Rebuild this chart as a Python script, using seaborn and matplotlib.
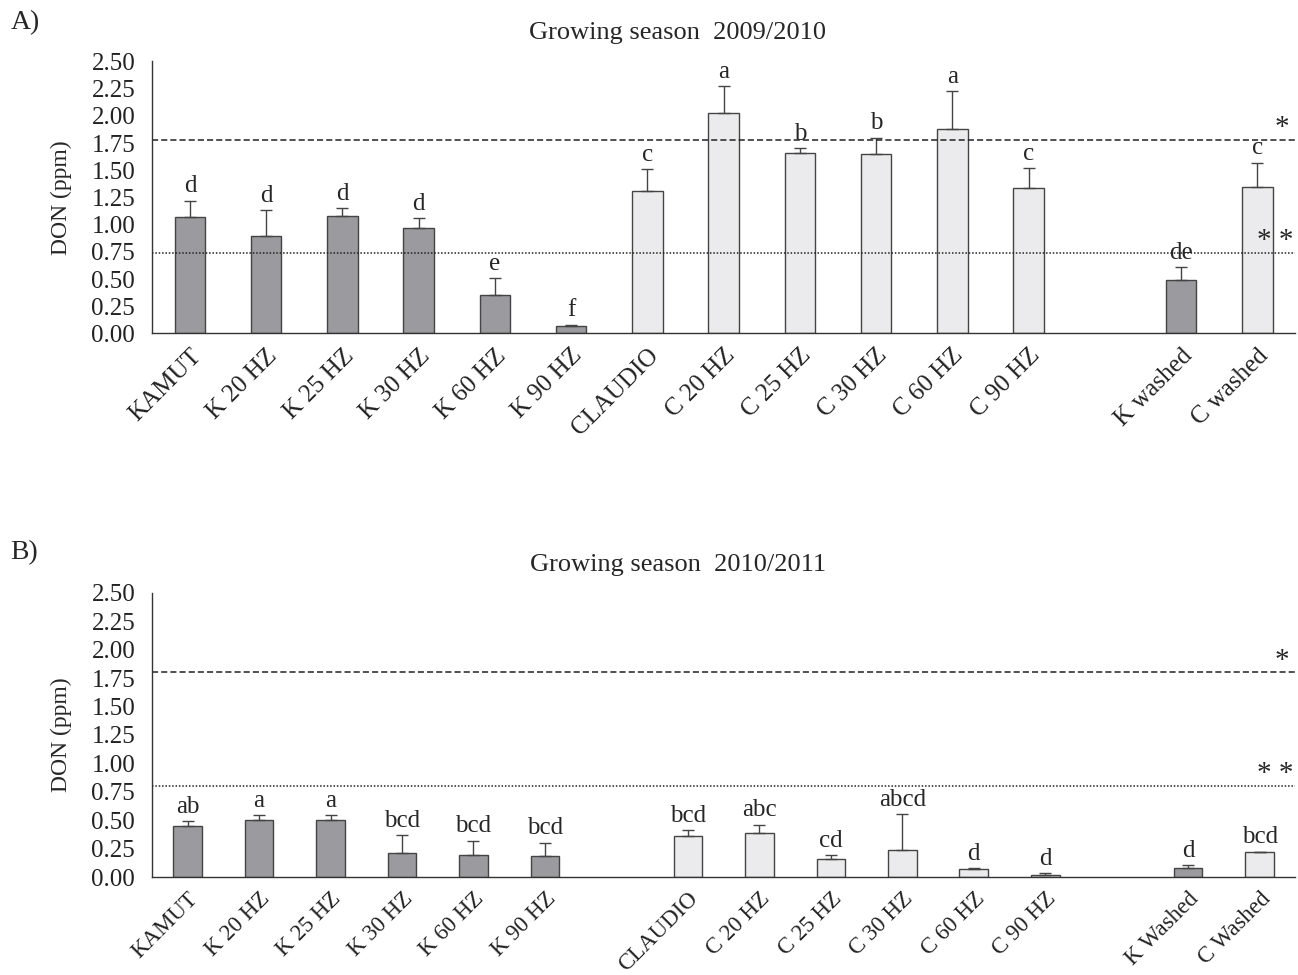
import numpy as np
import pandas as pd
import matplotlib
matplotlib.use("Agg")
import matplotlib.pyplot as plt
import seaborn as sns

# --- data ---
labels_a = ['KAMUT', 'K 20 HZ', 'K 25 HZ', 'K 30 HZ', 'K 60 HZ', 'K 90 HZ', 'CLAUDIO',
            'C 20 HZ', 'C 25 HZ', 'C 30 HZ', 'C 60 HZ', 'C 90 HZ', 'K washed', 'C washed']
order_a = labels_a[:12] + [' '] + labels_a[12:]
don_a = [1.07, 0.90, 1.08, 0.97, 0.35, 0.07, 1.31, 2.03, 1.66, 1.65, 1.875, 1.34, 0.49, 1.35]
err_a = [0.15, 0.23, 0.07, 0.09, 0.16, 0.01, 0.20, 0.24, 0.04, 0.15, 0.355, 0.18, 0.12, 0.22]
let_a = ['d', 'd', 'd', 'd', 'e', 'f', 'c', 'a', 'b', 'b', 'a', 'c', 'de', 'c']
limits_a = [1.78, 0.74]

labels_b = ['KAMUT', 'K 20 HZ', 'K 25 HZ', 'K 30 HZ', 'K 60 HZ', 'K 90 HZ', 'CLAUDIO',
            'C 20 HZ', 'C 25 HZ', 'C 30 HZ', 'C 60 HZ', 'C 90 HZ', 'K Washed', 'C Washed']
order_b = labels_b[:6] + [' '] + labels_b[6:12] + ['  '] + labels_b[12:]
don_b = [0.45, 0.50, 0.50, 0.21, 0.19, 0.185, 0.36, 0.39, 0.16, 0.24, 0.07, 0.02, 0.08, 0.22]
err_b = [0.04, 0.045, 0.045, 0.16, 0.13, 0.115, 0.05, 0.07, 0.03, 0.315, 0.01, 0.015, 0.025, 0.004]
let_b = ['ab', 'a', 'a', 'bcd', 'bcd', 'bcd', 'bcd', 'abc', 'cd', 'abcd', 'd', 'd', 'd', 'bcd']
limits_b = [1.80, 0.80]

cultivar = ['Kamut'] * 6 + ['Claudio'] * 6 + ['Kamut', 'Claudio']
palette = {'Kamut': '#9b9b9f', 'Claudio': '#ebebed'}

sns.set_style('white')
plt.rcParams['font.family'] = ['Liberation Serif', 'DejaVu Serif']
plt.rcParams['font.size'] = 14

fig = plt.figure(figsize=(12.98, 9.75), dpi=100)
ax_a = fig.add_axes([0.117, 0.658, 0.881, 0.279])
ax_b = fig.add_axes([0.117, 0.1005, 0.881, 0.2915])


def draw_panel(ax, labels, order, don, err, letters, limits, title, xfs):
    df = pd.DataFrame({'treatment': labels, 'DON': don, 'cultivar': cultivar})
    sns.barplot(data=df, x='treatment', y='DON', hue='cultivar', order=order,
                palette=palette, dodge=False, width=0.4, edgecolor='#444444',
                linewidth=1.0, legend=False, ax=ax)
    pos = np.array([order.index(l) for l in labels])
    ax.errorbar(pos, don, yerr=[np.zeros(len(err)), err], fmt='none',
                ecolor='#444444', elinewidth=1.0, capsize=4, capthick=1.0)
    for p, v, e, t in zip(pos, don, err, letters):
        ax.text(p, v + e + 0.03, t, ha='center', va='bottom', fontsize=18)

    ax.axhline(limits[0], color='#222222', lw=1.1, ls=(0, (4, 2)))
    ax.axhline(limits[1], color='#222222', lw=1.1, ls=(0, (1, 1.2)))
    tr = ax.get_yaxis_transform()
    ax.text(0.995, limits[0] - 0.01, '*', transform=tr, ha='right', va='bottom', fontsize=21)
    ax.text(0.998, limits[1] - 0.01, '* *', transform=tr, ha='right', va='bottom', fontsize=21)

    n = len(order)
    ax.set_xlim(-0.5, n - 0.5)
    ax.set_ylim(0, 2.5)
    ticks = np.arange(0, 2.51, 0.25)
    ax.set_yticks(ticks)
    ax.set_yticklabels([f'{v:.2f}' for v in ticks], fontsize=18, color='#222222')
    ax.set_xticks(range(n))
    ax.set_xticklabels(order, rotation=45, ha='right', rotation_mode='anchor',
                       fontsize=xfs, color='#222222')
    ax.set_xticks(np.arange(-0.5, n, 1.0), minor=True)
    ax.tick_params(axis='x', which='major', length=0, pad=8)
    ax.tick_params(axis='x', which='minor', length=10, width=1, color='#333333', direction='out')
    ax.tick_params(axis='y', length=7, width=1, color='#333333', direction='out', pad=5)
    for s in ['top', 'right']:
        ax.spines[s].set_visible(False)
    for s in ['left', 'bottom']:
        ax.spines[s].set_color('#333333')
        ax.spines[s].set_linewidth(1.0)
    ax.set_xlabel('')
    ax.set_ylabel('DON (ppm)', fontsize=17, labelpad=14)
    ax.set_title(title, fontsize=19, pad=16, x=0.46)


draw_panel(ax_a, labels_a, order_a, don_a, err_a, let_a, limits_a, 'Growing season  2009/2010', 18)
draw_panel(ax_b, labels_b, order_b, don_b, err_b, let_b, limits_b, 'Growing season  2010/2011', 16.5)

fig.text(0.008, 0.977, 'A)', fontsize=20, va='center')
fig.text(0.008, 0.433, 'B)', fontsize=20, va='center')

fig.savefig('out.png', dpi=100)
